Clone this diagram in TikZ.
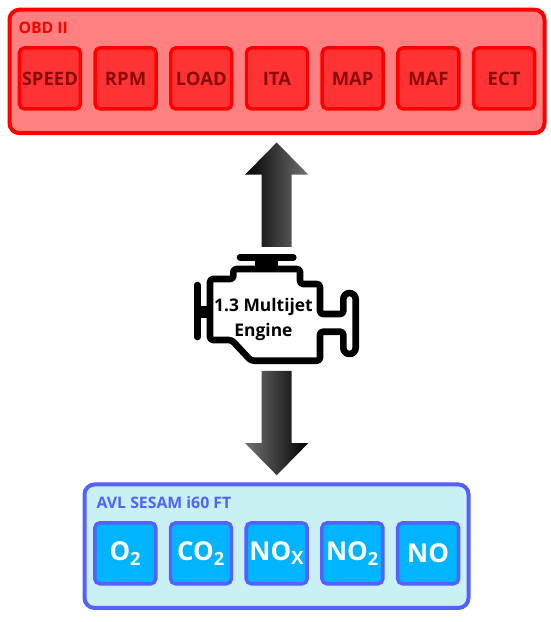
\documentclass[tikz,border=0pt]{standalone}
\usepackage{fontspec}
\setmainfont{Open Sans}
\usepackage{xcolor}
\usetikzlibrary{arrows.meta,positioning,matrix,shapes.arrows}
\definecolor{obdred}{HTML}{FF0000}
\definecolor{obdpanel}{HTML}{FF8080}
\definecolor{obdbox}{HTML}{FF3333}
\definecolor{obdtext}{HTML}{8B0A0A}
\definecolor{avlblue}{HTML}{5560FF}
\definecolor{avlpanel}{HTML}{C9F0F2}
\definecolor{avlbox}{HTML}{00B4FF}
\tikzset{
  panel/.style={draw,line width=4pt,rounded corners=10pt,outer sep=0pt,inner sep=0pt},
  paneltitle/.style={anchor=west,inner sep=0pt,font=\bfseries\fontsize{15.8}{19}\selectfont},
  gridcells/.style={matrix of nodes,column sep=11.3pt,
    nodes={draw,line width=3.4pt,rounded corners=5pt,minimum size=61pt,inner sep=0pt,outer sep=0pt,anchor=center}},
  bigarrow/.style={single arrow,single arrow tip angle=89,single arrow head extend=15.6pt,
    minimum width=63.3pt,inner sep=13.9pt,outer sep=0pt},
  engineline/.style={line width=6.6pt,line join=round,line cap=round}
}
\begin{document}
\begin{tikzpicture}[x=1pt,y=-1pt]
  \useasboundingbox (0,0) rectangle (550,622);

  % OBD side
  \node[panel,obdred,fill=obdpanel,minimum width=535pt,minimum height=123.5pt] (obd) at (277,71.4) {};
  \node[paneltitle,text=obdred] (obdtitle) at (18.3,28) {OBD II};
  \matrix[gridcells,nodes={obdred,fill=obdbox,text=obdtext,font=\bfseries\fontsize{18.5}{22}\selectfont}] (signals) at (277,78.4) {
  SPEED & RPM & LOAD & ITA & MAP & MAF & ECT \\
  };

  % AVL side
  \node[panel,avlblue,fill=avlpanel,minimum width=384pt,minimum height=123.5pt] (avl) at (276.5,546.2) {};
  \node[paneltitle,text=avlblue] (avltitle) at (96.5,503) {AVL SESAM i60 FT};
  \matrix[gridcells,nodes={avlblue,fill=avlbox,text=white,font=\bfseries\fontsize{26}{31}\selectfont}] (gases) at (276.7,553.3) {
  O\textsubscript{2} & CO\textsubscript{2} & NO\textsubscript{X} & NO\textsubscript{2} & NO \\
  };

  % arrows
  \node[bigarrow,shape border rotate=90,minimum height=104.4pt,left color=black,right color=black!55] (uparrow) at (276.7,202.3) {};
  \node[bigarrow,shape border rotate=270,minimum height=104.4pt,left color=black!55,right color=black] (downarrow) at (276.7,415.4) {};

  % engine
  \draw[engineline,rounded corners=3pt] (210,311.7) -- (210,279) -- (233.3,279) -- (233.3,269) -- (300,269) -- (300,284)
    -- (320,284) -- (320,314) -- (343.3,314) [rounded corners=6.2pt] -- (343.3,293) -- (355.7,293) -- (355.7,354) -- (343.3,354)
    [rounded corners=3pt] -- (343.3,331.7) -- (320,331.7) -- (320,360.7) -- (251,360.7) -- (231.7,340) -- (210,340) -- cycle;
  \draw[engineline] (240,257.3) -- (293.3,257.3);
  \fill (255,257.3) rectangle (278.3,270);
  \draw[engineline] (197.3,285) -- (197.3,337);
  \fill (197.3,305.7) rectangle (210,317.7);
  \node[align=center,inner sep=0pt,font=\bfseries\fontsize{17.4}{25}\selectfont] (engine) at (263.5,319.5) {1.3 Multijet\\Engine};
\end{tikzpicture}
\end{document}
